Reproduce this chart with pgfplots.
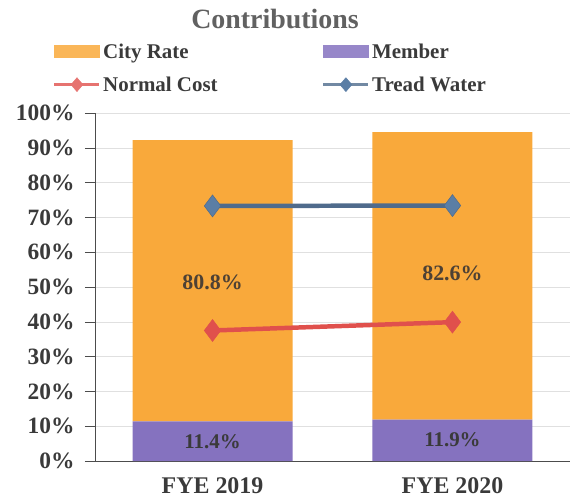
\documentclass[border=0pt]{standalone}
\usepackage{fontspec}
\setmainfont{Liberation Serif}
\usepackage{pgfplots}
\pgfplotsset{compat=1.18}
\definecolor{cityor}{HTML}{F9A93B}
\definecolor{membpu}{HTML}{8572BF}
\definecolor{normred}{HTML}{E0504C}
\definecolor{treadbl}{HTML}{4F6B8C}
\definecolor{treadmk}{HTML}{5B7EA5}
\definecolor{txt}{HTML}{3A3A3A}

\begin{document}
\begin{tikzpicture}
\begin{axis}[
  name=ax,
  scale only axis, width=475bp, height=348bp,
  xmin=-0.49, xmax=1.49, ymin=0, ymax=100,
  axis x line*=bottom, axis y line*=left,
  axis line style={black!70, line width=0.6pt},
  xtick={0,1}, xticklabels={FYE 2019, FYE 2020},
  major x tick style={draw=none},
  extra x ticks={0.5}, extra x tick labels={},
  extra x tick style={major tick length=7bp, tick align=outside, tick style={black!70}, grid=none},
  ytick={0,10,...,100}, tick align=outside, major tick length=10bp,
  y tick style={black!70},
  ymajorgrids, grid style={black!12, line width=0.5pt},
  /pgf/number format/assume math mode=true,
  yticklabel={\pgfmathprintnumber{\tick}\%},
  ticklabel style={font=\fontsize{23.5}{25}\selectfont\bfseries, text=txt},
  yticklabel style={xshift=-7bp},
  xticklabel style={yshift=-3bp, font=\fontsize{24}{26}\selectfont\bfseries},
  bar width=0.667, ybar stacked,
  legend columns=2,
  legend cell align=left,
  legend style={draw=none, fill=none, inner sep=0pt, outer sep=0pt,
    font=\fontsize{21}{23}\selectfont\bfseries, text=txt,
    at={(axis description cs:-0.089,1.205)}, anchor=north west,
    /tikz/every even column/.append style={column sep=102bp},
    row sep=13bp},
  clip=false,
]
\addplot[fill=membpu, draw=none, forget plot] coordinates {(0,11.4) (1,11.9)};
\addplot[fill=cityor, draw=none, forget plot] coordinates {(0,80.8) (1,82.6)};
\addlegendimage{legend image code/.code={\fill[cityor!85!white] (0bp,-6bp) rectangle (45bp,6bp);}}
\addlegendentry{City Rate}
\addlegendimage{legend image code/.code={\fill[membpu!85!white] (0bp,-6bp) rectangle (45bp,6bp);}}
\addlegendentry{Member}
\addlegendimage{legend image code/.code={\draw[normred!80!white, line width=3.5pt] (0bp,0bp) -- (45bp,0bp); \fill[normred!80!white] (22.5bp,7bp) -- (28.5bp,0bp) -- (22.5bp,-7bp) -- (16.5bp,0bp) -- cycle;}}
\addlegendentry{Normal Cost}
\addlegendimage{legend image code/.code={\draw[treadbl!80!white, line width=3.5pt] (0bp,0bp) -- (45bp,0bp); \fill[treadmk] (22.5bp,7bp) -- (28.5bp,0bp) -- (22.5bp,-7bp) -- (16.5bp,0bp) -- cycle;}}
\addlegendentry{Tread Water}
\end{axis}
\begin{axis}[
  scale only axis, width=475bp, height=348bp,
  xmin=-0.49, xmax=1.49, ymin=0, ymax=100,
  axis lines=none, clip=false,
]
\addplot[normred, line width=4.5pt, mark=diamond*, mark size=11bp, mark options={fill=normred, draw=normred, line width=0.5pt}] coordinates {(0,37.5) (1,39.9)};
\addplot[treadbl, line width=4.5pt, mark=diamond*, mark size=11bp, mark options={fill=treadmk, draw=treadbl, line width=0.5pt}] coordinates {(0,73.3) (1,73.4)};
\node[font=\fontsize{22}{24}\selectfont\bfseries, text=txt!90!orange] at (axis cs:0,51.4) {80.8\%};
\node[font=\fontsize{22}{24}\selectfont\bfseries, text=txt!90!orange] at (axis cs:1,54.0) {82.6\%};
\node[font=\fontsize{21}{23}\selectfont\bfseries, text=txt] at (axis cs:0,5.6) {11.4\%};
\node[font=\fontsize{21}{23}\selectfont\bfseries, text=txt] at (axis cs:1,6.0) {11.9\%};
\node[font=\fontsize{28}{30}\selectfont\bfseries, text=black!62] at (axis description cs:0.379,1.27) {Contributions};
\end{axis}
\pgfresetboundingbox
\path ([shift={(-95bp,-41bp)}]ax.south west) rectangle ([shift={(0bp,113bp)}]ax.north east);
\end{tikzpicture}
\end{document}
